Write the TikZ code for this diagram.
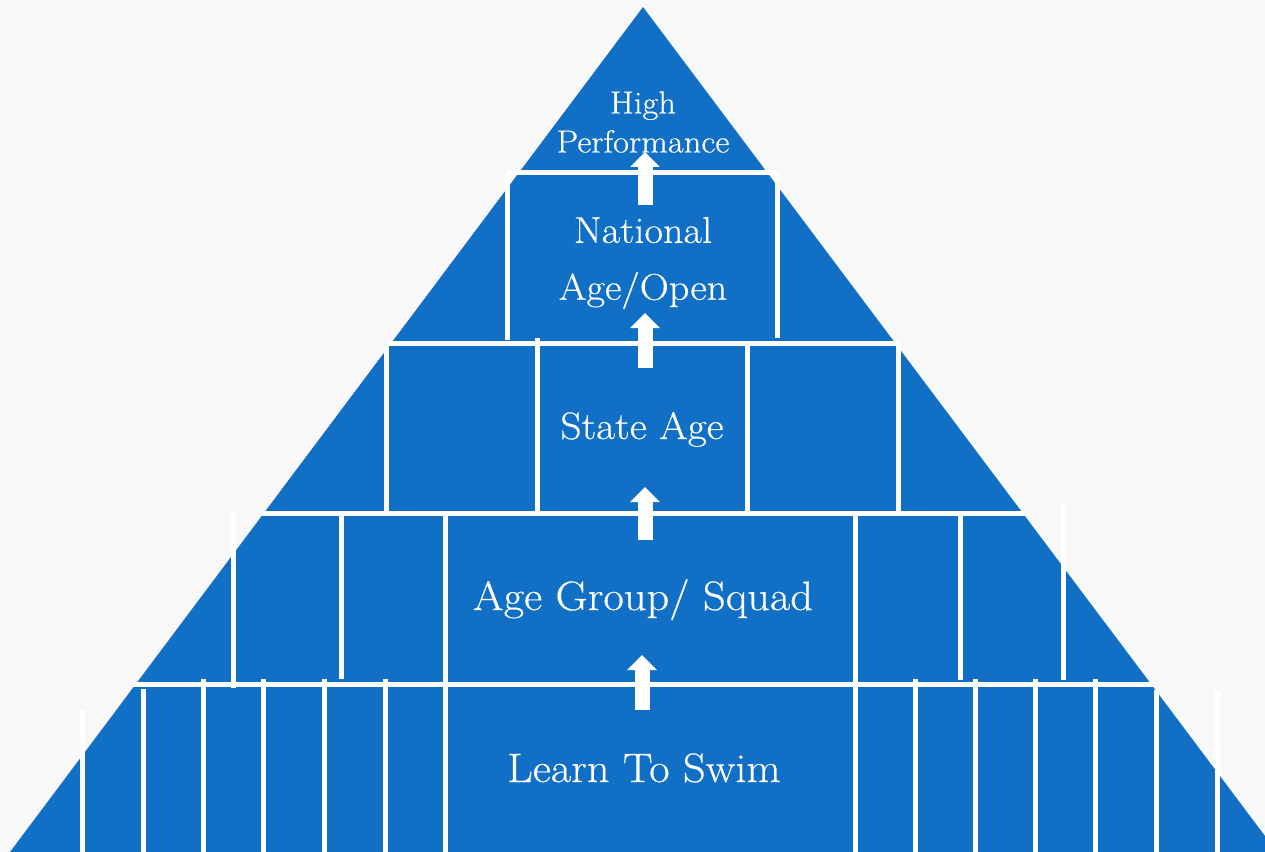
\documentclass[tikz,border=0pt]{standalone}
\usepackage{tikz}
\usepackage{fontspec}
\setmainfont{Latin Modern Roman}[FakeStretch=1.08, FakeBold=0.4]
\usetikzlibrary{arrows.meta}
\definecolor{pyrblue}{RGB}{17,112,198}
\definecolor{bgpaper}{RGB}{248,248,248}

\begin{document}
\begin{tikzpicture}[x=0.02cm, y=-0.02cm,
    brick/.style={white, line width=0.1cm},
    levtext/.style={anchor=base, align=center, text=white},
    steparrow/.style={white, line width=0.3cm, -{Triangle[length=0.3cm, width=0.58cm]}}]
    % Background
    \useasboundingbox (0,0) rectangle (1265,852);
    \fill[bgpaper] (0,0) rectangle (1265,852);
    \clip (0,0) rectangle (1265,852);
    % Pyramid
    \fill[pyrblue] (643,7) -- (10,852) -- (1277,852) -- cycle;
    % Courses
    \draw[brick] (507,172) -- (777,172);
    \draw[brick] (386,343) -- (900,343);
    \draw[brick] (262,513) -- (1025,513);
    \draw[brick] (133,684) -- (1153,684);
    % Joints (x / top / bottom)
    \foreach \x/\ya/\yb in {507/172/340, 777/172/338,
        386/345/513, 537/338/513, 747/343/513, 898/343/511,
        233/513/688, 341/513/679, 445/513/686, 855/513/686, 960/513/680, 1063/503/680,
        82/710/852, 143/689/852, 203/679/852, 263/679/852, 324/679/852, 385/679/852, 445/684/852,
        855/684/852, 915/679/852, 975/679/852, 1035/679/852, 1095/679/852, 1156/690/852, 1217/690/852}
        \draw[brick] (\x,\ya) -- (\x,\yb);
    % Levels
    \node[levtext, anchor=center, font=\fontsize{18.2}{22.2}\selectfont] (high) at (643,122) {High\\Performance};
    \node[levtext, anchor=center, font=\fontsize{21.2}{32.4}\selectfont] (national) at (643,263) {National\\Age/Open};
    \node[levtext, font=\fontsize{21.8}{28}\selectfont] (state) at (642,439) {State Age};
    \node[levtext, font=\fontsize{23.4}{28}\selectfont] (agegroup) at (643,610) {Age Group/ Squad};
    \node[levtext, font=\fontsize{23.4}{28}\selectfont] (lts) at (644,782) {Learn To Swim};
    % Arrows
    \coordinate (a1tail) at (645,205);
    \coordinate (a1tip) at (645,152);
    \coordinate (a2tail) at (645,368);
    \coordinate (a2tip) at (645,313);
    \coordinate (a3tail) at (645,540);
    \coordinate (a3tip) at (645,487);
    \coordinate (a4tail) at (642,710);
    \coordinate (a4tip) at (642,655);
    \draw[steparrow] (a1tail) -- (a1tip);
    \draw[steparrow] (a2tail) -- (a2tip);
    \draw[steparrow] (a3tail) -- (a3tip);
    \draw[steparrow] (a4tail) -- (a4tip);
\end{tikzpicture}
\end{document}
